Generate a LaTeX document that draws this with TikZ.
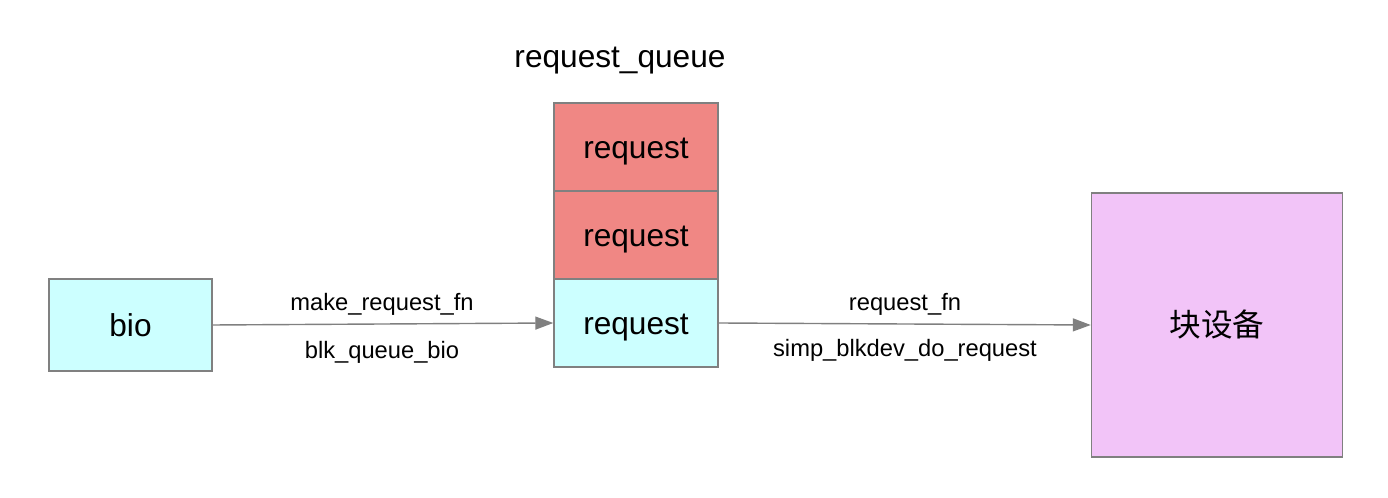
\documentclass[tikz,border=0pt]{standalone}
\usepackage{fontspec}
\setmainfont{Liberation Sans}
\newfontfamily\cjk{Noto Sans CJK SC}
\usepackage{xcolor}
\usepackage{tikz}
\usetikzlibrary{arrows.meta}
\definecolor{cellcyan}{HTML}{CCFFFF}
\definecolor{cellred}{HTML}{F08784}
\definecolor{devpink}{HTML}{F2C4F8}
\definecolor{edgegray}{HTML}{808080}
\tikzset{
  cell/.style={draw=edgegray,thick,minimum width=3.28cm,minimum height=1.76cm,inner sep=0pt,text height=13pt,text depth=0pt,font=\fontsize{18}{21}\selectfont},
  flow/.style={draw=edgegray,thick,-{Triangle[length=0.36cm,width=0.26cm]}},
  fnlabel/.style={font=\fontsize{13.5}{16}\selectfont}
}
\begin{document}
\begin{tikzpicture}
      \useasboundingbox (0,0) rectangle (27.76,9.96);
      \node[cell,fill=cellcyan,minimum width=3.26cm,minimum height=1.84cm] (bio) at (2.61,3.46) {bio};
      \node[cell,fill=cellred] (rq1) at (12.72,7.02) {request};
      \node[cell,fill=cellred] (rq2) at (12.72,5.26) {request};
      \node[cell,fill=cellcyan] (rq3) at (12.72,3.50) {request};
      \node[font=\fontsize{18}{21}\selectfont] (rqname) at (12.4,8.74) {request\_queue};
      \node[cell,fill=devpink,minimum width=5.02cm,minimum height=5.28cm] (dev) at (24.34,3.46) {\cjk 块设备};
      \draw[flow] (bio.east) -- (rq3.west);
      \draw[flow] (rq3.east) -- (dev.west);
      \node[fnlabel] (mkfn) at (7.64,3.88) {make\_request\_fn};
      \node[fnlabel] (blkq) at (7.64,2.92) {blk\_queue\_bio};
      \node[fnlabel] (rqfn) at (18.1,3.88) {request\_fn};
      \node[fnlabel] (simp) at (18.1,2.96) {simp\_blkdev\_do\_request};
    \end{tikzpicture}
\end{document}
